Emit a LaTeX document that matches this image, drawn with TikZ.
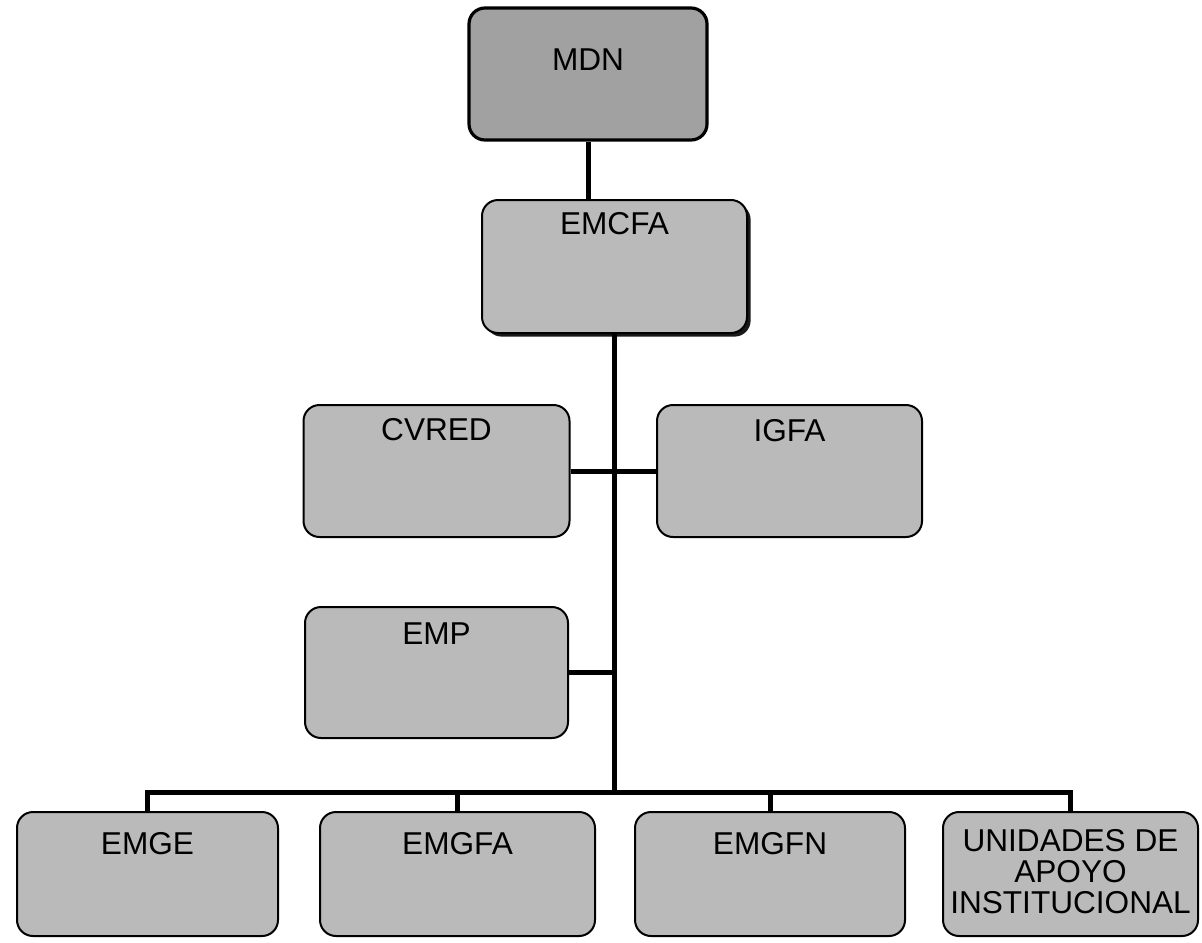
\documentclass[tikz,border=0pt]{standalone}
\usepackage{fontspec}
\setmainfont{Liberation Sans}
\usetikzlibrary{positioning, shadows}

\begin{document}
\begin{tikzpicture}[x=0.5pt, y=-0.5pt,
  unit/.style={draw, line width=1pt, rounded corners=8pt, fill=black!27, inner sep=0pt},
  caption/.style={font=\fontsize{15.8}{15.5}\selectfont, inner sep=0pt, align=center},
  link/.style={line width=2.5pt}]
  \useasboundingbox (0,0) rectangle (1202,942);
  % boxes
  \node[unit, fill=black!37, line width=1.6pt, minimum width=119pt, minimum height=66pt] (mdn) at (588,74) {};
  \node[unit, minimum width=132.5pt, minimum height=66.5pt,
        drop shadow={shadow xshift=1.8pt, shadow yshift=-1.8pt, fill=black, opacity=0.9}] (emcfa) at (614.5,266.5) {};
  \node[unit, minimum width=133pt, minimum height=66pt] (cvred) at (436.5,471) {};
  \node[unit, minimum width=132.5pt, minimum height=66pt] (igfa) at (789.5,471) {};
  \node[unit, minimum width=131.5pt, minimum height=65.5pt] (emp) at (436.5,672.5) {};
  \node[unit, minimum width=130.5pt, minimum height=62pt] (emge) at (147.5,874) {};
  \node[unit, minimum width=137.5pt, minimum height=62pt] (emgfa) at (457.5,874) {};
  \node[unit, minimum width=135pt, minimum height=62pt] (emgfn) at (770,874) {};
  \node[unit, minimum width=127.5pt, minimum height=62pt] (unidades) at (1070.5,874) {};
  % texts
  \node[caption, below=21pt of mdn.north] (mdn-t) {MDN};
  \node[caption, below=6.5pt of emcfa.north] (emcfa-t) {EMCFA};
  \node[caption, below=7pt of cvred.north] (cvred-t) {CVRED};
  \node[caption, below=7.5pt of igfa.north] (igfa-t) {IGFA};
  \node[caption, below=8pt of emp.north] (emp-t) {EMP};
  \node[caption, below=10.5pt of emge.north] (emge-t) {EMGE};
  \node[caption, below=10.5pt of emgfa.north] (emgfa-t) {EMGFA};
  \node[caption, below=10.5pt of emgfn.north] (emgfn-t) {EMGFN};
  \node[caption, below=9pt of unidades.north] (unidades-t) {UNIDADES DE\\APOYO\\INSTITUCIONAL};
  % links
  \coordinate (bus) at (614.5,792);
  \draw[link] (mdn.south) -- (mdn.south |- emcfa.north);
  \draw[link] (emcfa.south) -- (bus);
  \draw[link] (cvred.east) -- (igfa.west);
  \draw[link] (emp.east) -- (emp.east -| bus);
  \draw[link] (emge.north) -- (emge.north |- bus) -- (unidades.north |- bus) -- (unidades.north);
  \draw[link] (emgfa.north) -- (emgfa.north |- bus);
  \draw[link] (emgfn.north) -- (emgfn.north |- bus);
\end{tikzpicture}
\end{document}
